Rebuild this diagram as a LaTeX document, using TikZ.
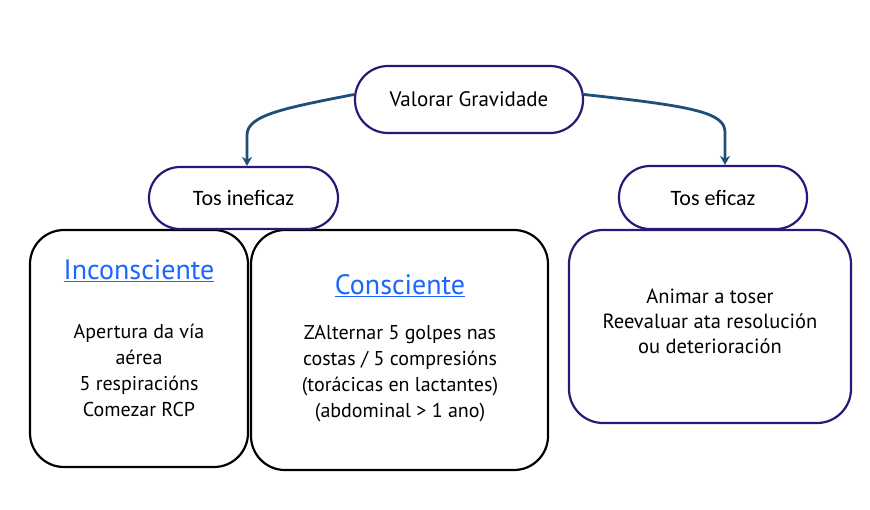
\documentclass[tikz,border=0pt]{standalone}
\usepackage{fontspec}
\setmainfont{PT Sans}
\newfontfamily\calfont{Carlito}
\usetikzlibrary{arrows.meta}
\definecolor{pill}{HTML}{2A1878}
\definecolor{arrowc}{HTML}{1F4E79}
\definecolor{linkc}{HTML}{1A66FF}
\tikzset{
  pillbox/.style={draw=pill, line width=2.2pt, fill=white, rounded corners=31pt, inner sep=0pt},
  bigbox/.style={draw=black, line width=2.2pt, rounded corners=34pt, inner sep=0pt},
  purplebox/.style={draw=pill, line width=2.2pt, rounded corners=34pt, inner sep=0pt},
  conn/.style={draw=arrowc, line width=2.8pt, -{Stealth[length=9pt,width=10pt]}},
  body/.style={align=center, font=\fontsize{20}{26}\selectfont},
  title/.style={text=linkc, font=\fontsize{28}{30}\selectfont}
}
\begin{document}
\begin{tikzpicture}[x=1pt,y=-1pt]
\useasboundingbox[fill=white] (0,0) rectangle (870,509);
% boxes
\node[bigbox, minimum width=218pt, minimum height=237pt] (inc) at (139,348.5) {};
\node[bigbox, minimum width=297pt, minimum height=240pt] (con) at (399.5,350) {};
\node[purplebox, minimum width=282pt, minimum height=193pt] (efb) at (710,326.5) {};
% pills
\node[pillbox, minimum width=228pt, minimum height=67pt, rounded corners=33pt] (vg) at (469,99.5) {\fontsize{21}{22}\selectfont Valorar Gravidade};
\node[pillbox, minimum width=189pt, minimum height=62pt] (ti) at (243.5,198) {\calfont\fontsize{22}{24}\selectfont Tos ineficaz};
\node[pillbox, minimum width=188pt, minimum height=63pt] (te) at (713,197.5) {\calfont\fontsize{22}{24}\selectfont Tos eficaz};
% texts
\node[title] (inct) at (139,271) {\underline{Inconsciente}};
\node[body] (incb) at (139,370) {Apertura da vía\\aérea\\5 respiracións\\Comezar RCP};
\node[title] (cont) at (400,286) {\underline{Consciente}};
\node[body] (conb) at (400,374) {ZAlternar 5 golpes nas\\costas / 5 compresións\\(torácicas en lactantes)\\(abdominal > 1 ano)};
\node[body, font=\fontsize{20.5}{25}\selectfont] (efbt) at (710,321) {Animar a toser\\Reevaluar ata resolución\\ou deterioración};
% connectors
\coordinate (l1) at (247,135);
\coordinate (r1) at (725,132);
\draw[conn] ([yshift=5pt]vg.west) .. controls (285,108) and (247,115) .. (l1) -- (ti.north -| l1);
\draw[conn] ([yshift=5pt]vg.east) .. controls (690,106) and (725,112) .. (r1) -- (te.north -| r1);
\end{tikzpicture}
\end{document}
